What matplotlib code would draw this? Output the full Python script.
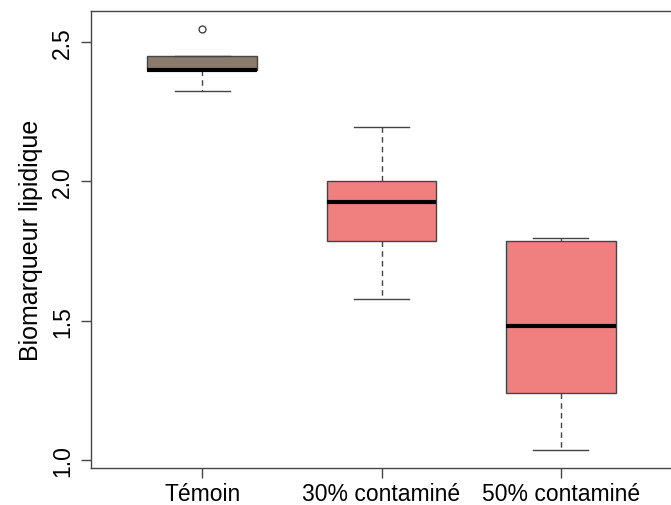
import matplotlib.pyplot as plt

plt.rcParams['font.family'] = ['Liberation Sans', 'DejaVu Sans']

groups = ['Témoin', '30% contaminé', '50% contaminé']
q1 = [2.40, 1.784, 1.24]
med = [2.40, 1.924, 1.48]
q3 = [2.451, 2.00, 1.784]
wlo = [2.323, 1.579, 1.034]
whi = [2.451, 2.194, 1.795]
outliers = [[2.547], [], []]
colors = ['#8c7b6c', '#f08080', '#f08080']

stats = []
for i, g in enumerate(groups):
    stats.append(dict(label=g, q1=q1[i], med=med[i], q3=q3[i],
                      whislo=wlo[i], whishi=whi[i], fliers=outliers[i]))

fig = plt.figure(figsize=(6.71, 5.06), dpi=100)
ax = fig.add_axes([91 / 671, 1 - 469 / 506, 581 / 671, 457 / 506])

edge = '#444444'
bp = ax.bxp(stats, positions=[1, 2, 3], widths=0.61, patch_artist=True,
            boxprops=dict(edgecolor=edge, linewidth=1.0),
            medianprops=dict(color='black', linewidth=3.0, solid_capstyle='butt'),
            whiskerprops=dict(color=edge, linewidth=1.0, linestyle=(0, (4, 3))),
            capprops=dict(color=edge, linewidth=1.0),
            capwidths=0.305,
            flierprops=dict(marker='o', markersize=5, markerfacecolor='none',
                            markeredgecolor='#333333', markeredgewidth=0.9))
for patch, c in zip(bp['boxes'], colors):
    patch.set_facecolor(c)

ax.set_xlim(0.38, 3.62)
ax.set_ylim(0.971, 2.611)
ax.set_yticks([1.0, 1.5, 2.0, 2.5])
ax.set_yticklabels(['1.0', '1.5', '2.0', '2.5'], rotation=90, va='center')
ax.set_ylabel('Biomarqueur lipidique', fontsize=18, labelpad=6)
ax.tick_params(axis='both', labelsize=16.5, length=7, width=1.0, color=edge, pad=5)
ax.tick_params(axis='x', pad=3)
for s in ax.spines.values():
    s.set_color(edge)
    s.set_linewidth(1.0)

fig.savefig('out.png', dpi=100)
